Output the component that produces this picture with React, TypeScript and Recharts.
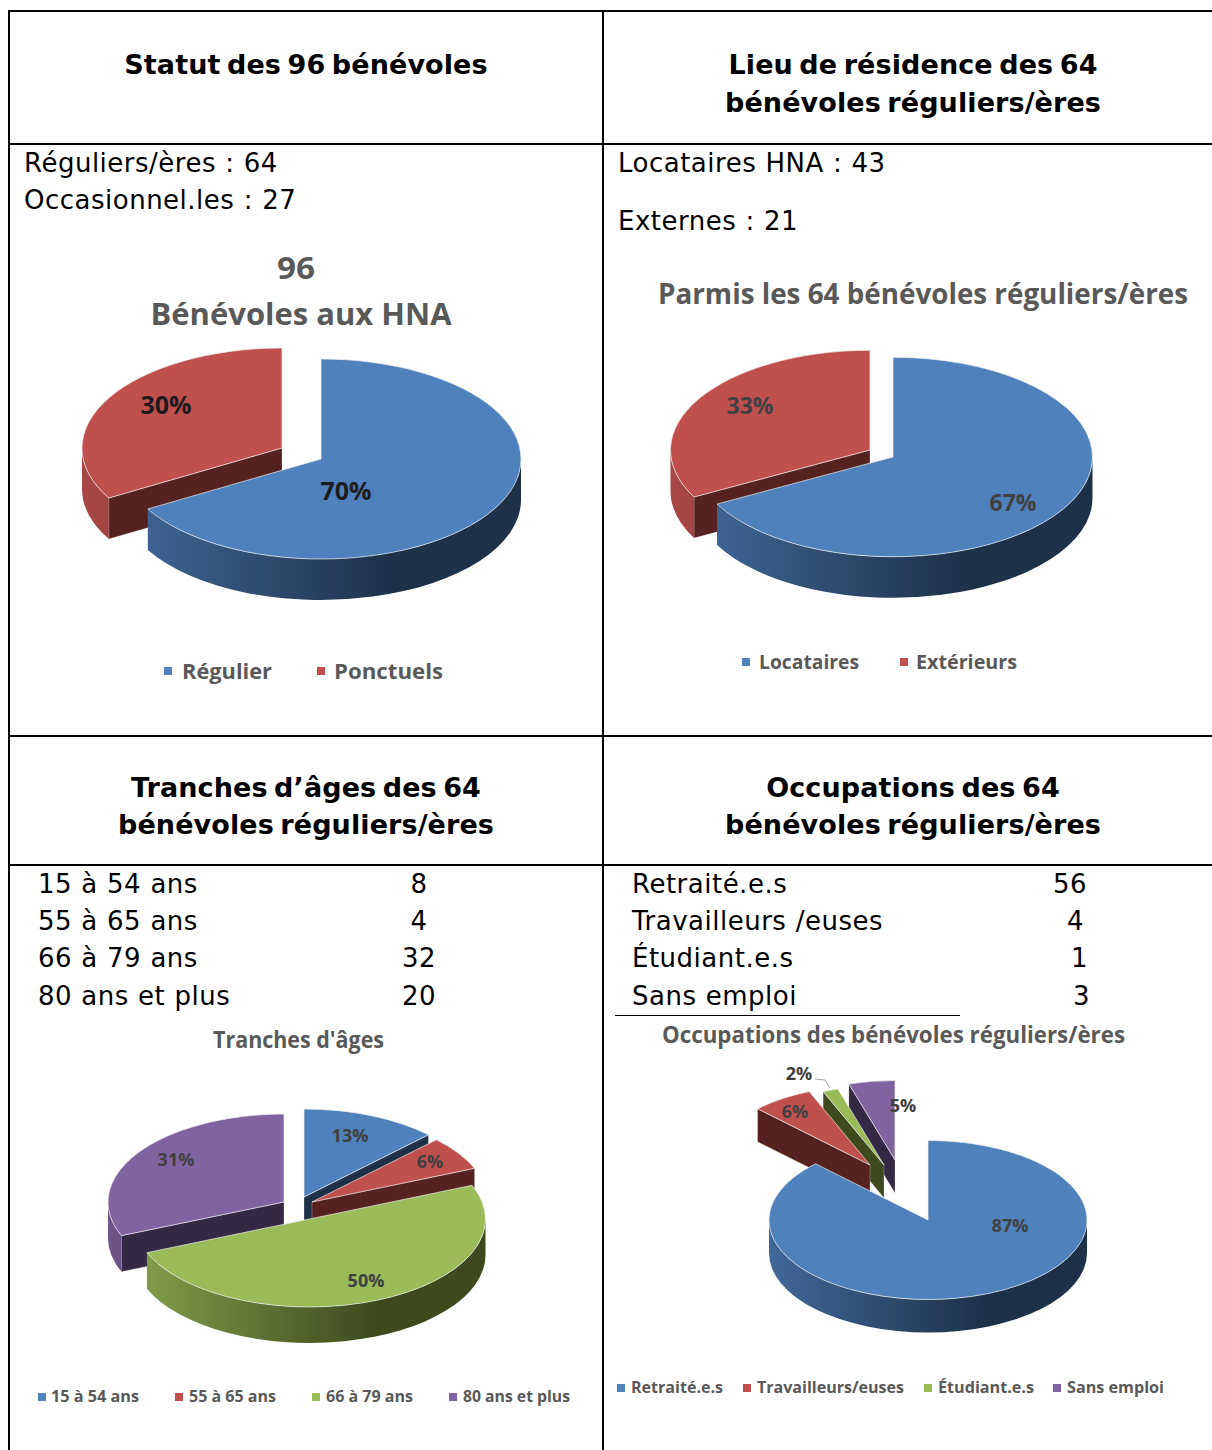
import * as React from 'react';
import { Legend, Pie, PieChart } from 'recharts';

const statutNames = ['Régulier', 'Ponctuels'];
const statutValues = [64, 32];
const statutLabels = ['70%', '30%'];

const lieuNames = ['Locataires', 'Extérieurs'];
const lieuValues = [43, 21];
const lieuLabels = ['67%', '33%'];

const ageNames = ['15 à 54 ans', '55 à 65 ans', '66 à 79 ans', '80 ans et plus'];
const ageValues = [8, 4, 32, 20];
const ageLabels = ['13%', '6%', '50%', '31%'];

const occupationNames = ['Retraité.e.s', 'Travailleurs/euses', 'Étudiant.e.s', 'Sans emploi'];
const occupationValues = [56, 4, 1, 3];
const occupationLabels = ['87%', '6%', '2%', '5%'];

const ageRows = ['15 à 54 ans', '55 à 65 ans', '66 à 79 ans', '80 ans et plus'];
const occupationRows = ['Retraité.e.s', 'Travailleurs /euses', 'Étudiant.e.s', 'Sans emploi'];

// top face, lit side, shaded side, cut face
const PALETTE = [
  ['#4f81bd', '#41689a', '#1d3149', '#1d3149'],
  ['#c0504d', '#a84846', '#5e2523', '#562220'],
  ['#9bbb59', '#84a04c', '#3e4a1e', '#3e4a1e'],
  ['#8064a2', '#6d5589', '#33294a', '#332945'],
];

const TILT = 0.5;
const CHART_FONT = '"Open Sans", sans-serif';
const TEXT_FONT = '"DejaVu Sans", Verdana, sans-serif';

interface PieLook {
  id: string;
  left: number;
  top: number;
  width: number;
  height: number;
  cx: number;
  cy: number;
  rx: number;
  depth: number;
  shifts: number[][];
  order: number[];
  names: string[];
  values: number[];
  labels: string[];
  labelAt: number[][];
  labelSize: number;
  labelColor: string;
  titles: { text: string; x: number; y: number; len: number; size: number }[];
  legendY: number;
  legendSize: number;
  legend: { mark: number; text: number; len: number }[];
}

const looks: PieLook[] = [
  {
    id: 'a', left: 10, top: 240, width: 592, height: 490,
    cx: 321, cy: 459, rx: 200, depth: 41,
    shifts: [[0, 0], [-39, -11]],
    order: [1, 0],
    names: statutNames, values: statutValues, labels: statutLabels,
    labelAt: [[346, 490], [166, 404]], labelSize: 25, labelColor: '#1c1c1c',
    titles: [
      { text: '96', x: 296, y: 267, len: 38, size: 31 },
      { text: 'Bénévoles aux HNA', x: 301, y: 313, len: 301, size: 31 },
    ],
    legendY: 670, legendSize: 22,
    legend: [{ mark: 164, text: 182, len: 90 }, { mark: 317, text: 334, len: 109 }],
  },
  {
    id: 'b', left: 605, top: 240, width: 607, height: 490,
    cx: 893, cy: 457, rx: 199.5, depth: 41,
    shifts: [[0, 0], [-23, -7]],
    order: [1, 0],
    names: lieuNames, values: lieuValues, labels: lieuLabels,
    labelAt: [[1013, 502], [750, 405]], labelSize: 23, labelColor: '#404040',
    titles: [{ text: 'Parmis les 64 bénévoles réguliers/ères', x: 923, y: 292.5, len: 530, size: 29 }],
    legendY: 661, legendSize: 20,
    legend: [{ mark: 742, text: 759, len: 100 }, { mark: 900, text: 916, len: 101 }],
  },
  {
    id: 'c', left: 10, top: 1005, width: 592, height: 445,
    cx: 304, cy: 1197, rx: 176, depth: 36,
    shifts: [[0, 0], [8, 5], [5.5, 22], [-20, 5]],
    order: [3, 0, 1, 2],
    names: ageNames, values: ageValues, labels: ageLabels,
    labelAt: [[350, 1135], [430, 1161], [366, 1280], [176, 1159]], labelSize: 18, labelColor: '#404040',
    titles: [{ text: "Tranches d'âges", x: 298.5, y: 1039, len: 171, size: 23 }],
    legendY: 1396, legendSize: 16,
    legend: [
      { mark: 38, text: 51, len: 88 },
      { mark: 175, text: 189, len: 87 },
      { mark: 312, text: 326, len: 87 },
      { mark: 449, text: 463, len: 107 },
    ],
  },
  {
    id: 'd', left: 605, top: 1005, width: 607, height: 445,
    cx: 928, cy: 1220, rx: 159, depth: 33,
    shifts: [[0, 0], [-58, -55], [-44, -55], [-33, -60]],
    order: [3, 2, 1, 0],
    names: occupationNames, values: occupationValues, labels: occupationLabels,
    labelAt: [[1010, 1225], [795, 1111], [799, 1073], [903, 1105]], labelSize: 18, labelColor: '#404040',
    titles: [{ text: 'Occupations des bénévoles réguliers/ères', x: 893.5, y: 1034, len: 463, size: 23 }],
    legendY: 1387, legendSize: 16,
    legend: [
      { mark: 617, text: 631, len: 92 },
      { mark: 743, text: 757, len: 147 },
      { mark: 924, text: 938, len: 96 },
      { mark: 1053, text: 1067, len: 97 },
    ],
  },
];

const rad = (deg: number) => (deg * Math.PI) / 180;

// one exploded slice, drawn as a tilted disc segment with walls
function Slice3D({ look, only, props }: { look: PieLook; only: number; props: any }) {
  if (props.index !== only) return null;
  const rx = props.outerRadius;
  const ry = rx * TILT;
  const X = props.cx + look.shifts[only][0];
  const Y = props.cy + look.shifts[only][1];
  const D = look.depth;
  const a0 = 90 - props.startAngle;
  const a1 = 90 - props.endAngle;
  const [top, lit, shade, cut] = PALETTE[only];
  const pt = (a: number, dy = 0) => `${X + rx * Math.sin(rad(a))} ${Y - ry * Math.cos(rad(a)) + dy}`;
  const gradId = `wall-${look.id}-${only}`;

  const faces: number[] = [];
  if (Math.sin(rad(a0)) < -1e-6) faces.push(a0);
  if (Math.sin(rad(a1)) > 1e-6) faces.push(a1);

  const s = Math.max(a0, 90);
  const e = Math.min(a1, 270);
  const large = a1 - a0 > 180 ? 1 : 0;

  return (
    <g>
      <defs>
        <linearGradient id={gradId} gradientUnits="userSpaceOnUse" x1={X - rx} y1={0} x2={X + rx} y2={0}>
          <stop offset="0" stopColor={lit} />
          <stop offset="0.68" stopColor={shade} />
          <stop offset="1" stopColor={shade} />
        </linearGradient>
      </defs>
      {faces.map((a) => (
        <path
          key={a}
          d={`M${X} ${Y}L${pt(a)}L${pt(a, D)}L${X} ${Y + D}Z`}
          fill={cut}
          stroke="#ffffff"
          strokeOpacity={0.35}
          strokeWidth={0.7}
        />
      ))}
      {e > s && (
        <path
          d={`M${pt(s)}A${rx} ${ry} 0 0 1 ${pt(e)}L${pt(e, D)}A${rx} ${ry} 0 0 0 ${pt(s, D)}Z`}
          fill={`url(#${gradId})`}
        />
      )}
      <path
        d={`M${X} ${Y}L${pt(a0)}A${rx} ${ry} 0 ${large} 1 ${pt(a1)}Z`}
        fill={top}
        stroke="#f2f2f2"
        strokeOpacity={0.75}
        strokeWidth={0.9}
        strokeLinejoin="round"
      />
    </g>
  );
}

function LegendRow({ look }: { look: PieLook }) {
  return (
    <svg width={look.width} height={30} style={{ display: 'block' }}>
      {look.names.map((name, i) => (
        <g key={name}>
          <rect x={look.legend[i].mark - look.left} y={12} width={8} height={8} fill={PALETTE[i][0]} />
          <text
            x={look.legend[i].text - look.left}
            y={15}
            dominantBaseline="central"
            fontFamily={CHART_FONT}
            fontWeight={700}
            fontSize={look.legendSize}
            fill="#595959"
            textLength={look.legend[i].len}
            lengthAdjust="spacingAndGlyphs"
          >
            {name}
          </text>
        </g>
      ))}
    </svg>
  );
}

function Chart3D({ look }: { look: PieLook }) {
  const rows = look.names.map((name, i) => ({ name, value: look.values[i], fill: PALETTE[i][0] }));
  const common = {
    data: rows,
    dataKey: 'value',
    nameKey: 'name',
    cx: look.cx - look.left,
    cy: look.cy - look.top,
    innerRadius: 0,
    outerRadius: look.rx,
    startAngle: 90,
    endAngle: -270,
    isAnimationActive: false,
    stroke: 'none',
  };
  return (
    <div style={{ position: 'absolute', left: look.left, top: look.top }}>
      <PieChart width={look.width} height={look.height} margin={{ top: 0, right: 0, bottom: 0, left: 0 }}>
        {look.titles.map((t) => (
          <text
            key={t.text}
            x={t.x - look.left}
            y={t.y - look.top}
            textAnchor="middle"
            dominantBaseline="central"
            fontFamily={CHART_FONT}
            fontWeight={700}
            fontSize={t.size}
            fill="#595959"
            textLength={t.len}
            lengthAdjust="spacingAndGlyphs"
          >
            {t.text}
          </text>
        ))}
        {look.order.map((only) => (
          <Pie key={only} {...common} shape={(p: any) => <Slice3D look={look} only={only} props={p} />} />
        ))}
        <Pie
          {...common}
          shape={() => null}
          labelLine={false}
          label={(p: any) => (
            <text
              key={p.index}
              x={look.labelAt[p.index][0] - look.left}
              y={look.labelAt[p.index][1] - look.top}
              textAnchor="middle"
              dominantBaseline="central"
              fontFamily={CHART_FONT}
              fontWeight={700}
              fontSize={look.labelSize}
              fill={look.labelColor}
            >
              {look.labels[p.index]}
            </text>
          )}
        />
        {look.id === 'd' && (
          <polyline
            points={`${815 - look.left},${1079 - look.top} ${825 - look.left},${1080 - look.top} ${830 - look.left},${1088 - look.top}`}
            fill="none"
            stroke="#a6a6a6"
            strokeWidth={1}
          />
        )}
        <Legend
          content={() => <LegendRow look={look} />}
          wrapperStyle={{ left: 0, top: look.legendY - 15 - look.top, width: look.width, height: 30 }}
        />
      </PieChart>
    </div>
  );
}

function Line({ x, y, w, h }: { x: number; y: number; w: number; h: number }) {
  return <div style={{ position: 'absolute', left: x, top: y, width: w, height: h, background: '#000' }} />;
}

function Txt({ children, x, y, bold, center, right }: any) {
  const style: React.CSSProperties = {
    position: 'absolute',
    top: y - 19,
    height: 40,
    lineHeight: '40px',
    whiteSpace: 'nowrap',
    fontFamily: TEXT_FONT,
    fontSize: bold ? 27 : 26,
    fontWeight: bold ? 700 : 400,
    letterSpacing: bold ? 0.1 : 0.5,
    wordSpacing: bold ? -3 : 0.5,
    color: '#000',
  };
  if (center) {
    style.left = x - 300;
    style.width = 600;
    style.textAlign = 'center';
  } else if (right) {
    style.left = x - 200;
    style.width = 200;
    style.textAlign = 'right';
  } else {
    style.left = x;
  }
  return <div style={style}>{children}</div>;
}

export default function App() {
  const ageRowY = [883, 920, 957, 995];
  const occupationRight = [1087, 1084, 1088, 1090];
  return (
    <div style={{ position: 'absolute', left: 0, top: 0, width: 1212, height: 1450, overflow: 'hidden', background: '#fff' }}>
      <Line x={8} y={10} w={1204} h={2} />
      <Line x={8} y={143} w={1204} h={2} />
      <Line x={8} y={735} w={1204} h={2} />
      <Line x={8} y={864} w={1204} h={2} />
      <Line x={8} y={10} w={2} h={1440} />
      <Line x={602} y={10} w={2} h={1440} />
      <Line x={615} y={1015} w={345} h={1} />

      <Txt bold center x={306} y={64}>Statut des 96 bénévoles</Txt>
      <Txt bold center x={913} y={64}>Lieu de résidence des 64</Txt>
      <Txt bold center x={913} y={102}>bénévoles réguliers/ères</Txt>
      <Txt bold center x={306} y={787}>Tranches d’âges des 64</Txt>
      <Txt bold center x={306} y={824}>bénévoles réguliers/ères</Txt>
      <Txt bold center x={913} y={787}>Occupations des 64</Txt>
      <Txt bold center x={913} y={824}>bénévoles réguliers/ères</Txt>

      <Txt x={24} y={162}>Réguliers/ères : 64</Txt>
      <Txt x={24} y={199}>Occasionnel.les : 27</Txt>
      <Txt x={618} y={162}>Locataires HNA : 43</Txt>
      <Txt x={618} y={220}>Externes : 21</Txt>

      {ageRows.map((r, i) => (
        <React.Fragment key={r}>
          <Txt x={38} y={ageRowY[i]}>{r}</Txt>
          <Txt center x={419} y={ageRowY[i]}>{ageValues[i]}</Txt>
        </React.Fragment>
      ))}
      {occupationRows.map((r, i) => (
        <React.Fragment key={r}>
          <Txt x={632} y={ageRowY[i]}>{r}</Txt>
          <Txt right x={occupationRight[i]} y={ageRowY[i]}>{occupationValues[i]}</Txt>
        </React.Fragment>
      ))}

      {looks.map((look) => (
        <Chart3D key={look.id} look={look} />
      ))}
    </div>
  );
}
